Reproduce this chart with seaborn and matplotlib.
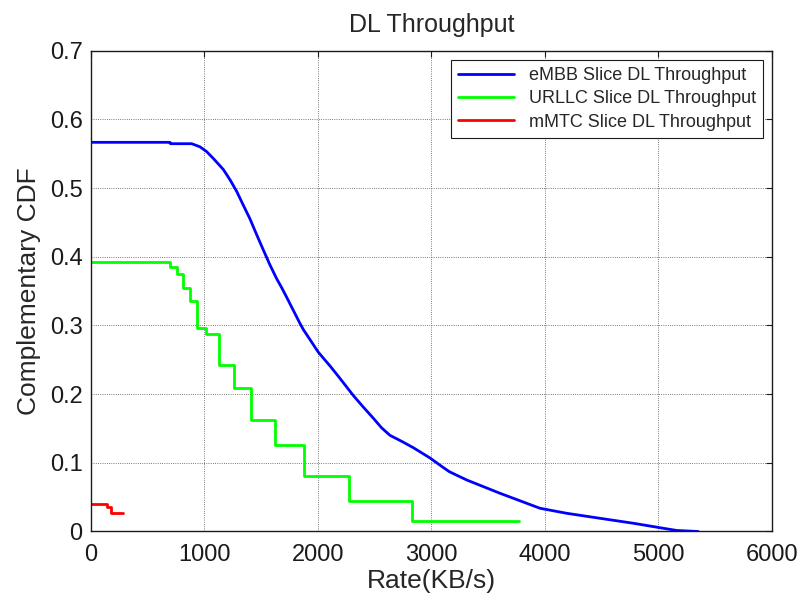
import numpy as np
import pandas as pd
import seaborn as sns
import matplotlib.pyplot as plt

# eMBB complementary CDF
embb_rate = [0, 696, 700, 887, 960, 1019, 1078, 1166, 1225, 1284, 1342, 1401,
             1460, 1518, 1577, 1636, 1680, 1724, 1841, 1871, 2003, 2106, 2179,
             2311, 2400, 2487, 2560, 2634, 2740, 2840, 2987, 3105, 3158, 3310,
             3604, 3956, 4191, 4485, 4778, 5013, 5160, 5350]
embb_ccdf = [0.5665, 0.5665, 0.5645, 0.5645, 0.560, 0.553, 0.543, 0.527, 0.512,
             0.495, 0.475, 0.455, 0.432, 0.410, 0.388, 0.368, 0.355, 0.341,
             0.303, 0.294, 0.261, 0.241, 0.226, 0.198, 0.181, 0.165, 0.151,
             0.140, 0.131, 0.122, 0.107, 0.093, 0.087, 0.075, 0.0556, 0.0338,
             0.0265, 0.0192, 0.012, 0.0055, 0.0015, 0.0]

# URLLC steps
urllc_rate = [0, 696, 755, 808, 872, 931, 1010, 1130, 1260, 1412, 1624, 1879,
              2270, 2831, 3774]
urllc_ccdf = [0.393, 0.385, 0.375, 0.354, 0.335, 0.296, 0.2875, 0.242, 0.209,
              0.162, 0.126, 0.081, 0.045, 0.016, 0.016]

# mMTC steps
mmtc_rate = [0, 137, 176, 285]
mmtc_ccdf = [0.0396, 0.035, 0.0274, 0.0274]

labels = ['eMBB Slice DL Throughput', 'URLLC Slice DL Throughput',
          'mMTC Slice DL Throughput']
colors = ['#0000ff', '#00ff00', '#ff0000']

sns.set_theme(style='white')
plt.rcParams['font.family'] = ['Liberation Sans', 'DejaVu Sans']

fig = plt.figure(figsize=(8.05, 5.99), dpi=100)
ax = fig.add_axes([0.1130, 0.1127, 0.8460, 0.8028])

embb = pd.DataFrame({'rate': embb_rate, 'ccdf': embb_ccdf})
urllc = pd.DataFrame({'rate': urllc_rate, 'ccdf': urllc_ccdf})
mmtc = pd.DataFrame({'rate': mmtc_rate, 'ccdf': mmtc_ccdf})

sns.lineplot(data=embb, x='rate', y='ccdf', ax=ax, color=colors[0], lw=2,
             label=labels[0], estimator=None, sort=False)
sns.lineplot(data=urllc, x='rate', y='ccdf', ax=ax, color=colors[1], lw=2,
             label=labels[1], estimator=None, sort=False, drawstyle='steps-post')
sns.lineplot(data=mmtc, x='rate', y='ccdf', ax=ax, color=colors[2], lw=2,
             label=labels[2], estimator=None, sort=False, drawstyle='steps-post')

ax.set_xlim(0, 6000)
ax.set_ylim(0, 0.7)
ax.set_xticks(np.arange(0, 6001, 1000))
ax.set_yticks(np.arange(0, 0.71, 0.1))
ax.set_yticklabels(['0', '0.1', '0.2', '0.3', '0.4', '0.5', '0.6', '0.7'])

ax.grid(True, color='0.3', linestyle=':', linewidth=0.6)
for s in ax.spines.values():
    s.set_color('k')
    s.set_linewidth(1.0)
ax.tick_params(direction='in', top=True, right=True, length=4, width=0.8,
               colors='k', labelsize=17)
ax.tick_params(axis='x', pad=9)
ax.tick_params(axis='y', pad=6)

ax.set_title('DL Throughput', fontsize=18, pad=13.5)
ax.set_xlabel('Rate(KB/s)', fontsize=19, labelpad=2)
ax.set_ylabel('Complementary CDF', fontsize=19, labelpad=6)

leg = ax.legend(loc='upper right', fontsize=13, frameon=True, fancybox=False,
                framealpha=1, edgecolor='k', handlelength=3.1,
                borderaxespad=0.5, labelspacing=0.35)
leg.get_frame().set_linewidth(0.8)

plt.savefig('out.png', dpi=100)
